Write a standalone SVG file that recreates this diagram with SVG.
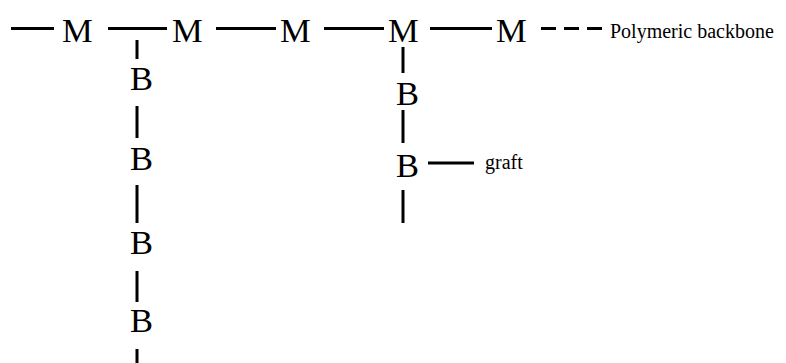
<svg xmlns="http://www.w3.org/2000/svg" width="786" height="363" viewBox="0 0 786 363">
<style>
.n{font-family:"Liberation Serif","Times New Roman",serif;font-size:34.5px;fill:#000}
.lbl{font-family:"Liberation Serif","Times New Roman",serif;font-size:20px;fill:#000}
.c{stroke:#000;stroke-width:3;fill:none}
.d{stroke-dasharray:15 8}
</style>
<rect width="786" height="363" fill="#fff"/>
<g id="connectors">
<line class="c" x1="11" y1="28.5" x2="54" y2="28.5"/>
<line class="c" x1="108" y1="28.5" x2="167" y2="28.5"/>
<line class="c" x1="216" y1="28.5" x2="276" y2="28.5"/>
<line class="c" x1="324" y1="28.5" x2="384" y2="28.5"/>
<line class="c" x1="430" y1="28.5" x2="492" y2="28.5"/>
<line class="c d" x1="541" y1="28.5" x2="602" y2="28.5"/>
<line class="c" x1="137" y1="40" x2="137" y2="59"/>
<line class="c" x1="137" y1="106" x2="137" y2="138"/>
<line class="c" x1="137" y1="185" x2="137" y2="223"/>
<line class="c" x1="137" y1="271" x2="137" y2="302"/>
<line class="c" x1="137" y1="349" x2="137" y2="363"/>
<line class="c" x1="403" y1="47" x2="403" y2="73"/>
<line class="c" x1="403" y1="110" x2="403" y2="143"/>
<line class="c" x1="403" y1="190" x2="403" y2="223"/>
<line class="c" x1="428" y1="163" x2="474" y2="163"/>
</g>
<g id="M1"><text class="n" x="62" y="42">M</text></g>
<g id="M2"><text class="n" x="172" y="42">M</text></g>
<g id="M3"><text class="n" x="280" y="42">M</text></g>
<g id="M4"><text class="n" x="388" y="42">M</text></g>
<g id="M5"><text class="n" x="496" y="42">M</text></g>
<g id="B1"><text class="n" x="130" y="90">B</text></g>
<g id="B2"><text class="n" x="130" y="170">B</text></g>
<g id="B3"><text class="n" x="130" y="254">B</text></g>
<g id="B4"><text class="n" x="130" y="332">B</text></g>
<g id="B5"><text class="n" x="396" y="105">B</text></g>
<g id="B6"><text class="n" x="396" y="177">B</text></g>
<g id="label-backbone"><text class="lbl" x="610" y="38">Polymeric backbone</text></g>
<g id="label-graft"><text class="lbl" x="485" y="169">graft</text></g>
</svg>
